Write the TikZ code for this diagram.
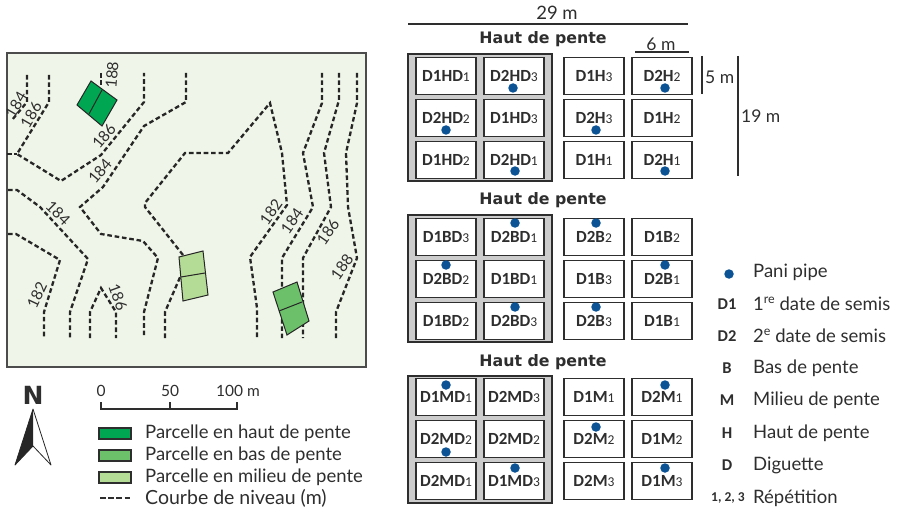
\documentclass[tikz,border=0pt]{standalone}
\usepackage{fontspec}
\setmainfont{Lato}
\newfontfamily\cellfont{Carlito}
\newfontfamily\headfont{DejaVu Sans}
\definecolor{ink}{HTML}{2E2E2E}
\definecolor{mapbg}{HTML}{EFF5E8}
\definecolor{hautc}{HTML}{00A651}
\definecolor{basc}{HTML}{6CC06A}
\definecolor{milc}{HTML}{B5DC96}
\definecolor{pani}{HTML}{0B5394}
\newcommand{\cellname}[2]{{\fontsize{17}{18}\selectfont\bfseries #1}{\fontsize{13.5}{14}\selectfont #2}}
\tikzset{
 contour/.style={draw=black!85,line width=2.3pt,dash pattern=on 4.6pt off 2.8pt},
 parcel/.style={draw=black!85,line width=1pt},
 plotcell/.style={draw=ink,line width=1.2pt,fill=white,minimum width=60pt,minimum height=37.5pt,inner sep=0pt,font=\cellfont,text=ink},
 dike/.style={draw=ink,line width=1.2pt,fill=black!20},
 panidot/.style={circle,fill=pani,minimum size=9.5pt,inner sep=0pt},
 lab/.style={font=\fontsize{18.5}{20}\selectfont,text=ink,inner sep=0pt},
 dimlab/.style={lab,font=\fontsize{17.5}{19}\selectfont,anchor=west},
 scalelab/.style={lab,font=\fontsize{15.5}{17}\selectfont},
 leg/.style={lab,anchor=west},
 keyb/.style={font=\cellfont\bfseries\fontsize{16.5}{17}\selectfont,text=ink,inner sep=0pt},
 elev/.style={font=\fontsize{15.5}{17}\selectfont,text=ink,inner sep=0pt},
 head/.style={font=\headfont\bfseries\fontsize{15.8}{17}\selectfont,text=ink,inner sep=0pt},
 dimline/.style={draw=ink,line width=1.3pt},
 swatch/.style={draw=ink,line width=1.3pt},
}
\begin{document}
\begin{tikzpicture}[x=1pt,y=-1pt]
\useasboundingbox (0,0) rectangle (898,511);
% map
\draw[fill=mapbg,draw=black!70,line width=1.5pt] (7,53) rectangle (366,367);
\draw[contour] (27,75)--(27,102)--(12,120);
\draw[contour] (49,75)--(49,102)--(17,154)--(61,181)--(101,155)--(144,102)--(144,73);
\draw[contour] (7,154)--(17,154);
\draw[contour] (101,73)--(101,86);
\draw[contour] (186,73)--(186,102)--(144,126)--(103,187)--(80,207)--(101,234)--(143,241)--(158,258)--(144,312)--(144,338);
\draw[contour] (8,234)--(16,234)--(60,260)--(44,312)--(44,338);
\draw[contour] (8,190)--(17,190)--(40,207)--(88,259)--(70,312)--(70,338);
\draw[contour] (90,338)--(90,312)--(101,288)--(116,312)--(116,338);
\draw[contour] (165,338)--(165,312)--(181,275);
\draw[contour] (183,255)--(145,207)--(145,203)--(185,153)--(228,153)--(270,103)--(282,153)--(287,205)--(250,257)--(257,308)--(257,338);
\draw[contour] (322,73)--(322,103)--(303,153)--(313,207)--(282,258)--(282,338);
\draw[contour] (339,73)--(339,100)--(324,153)--(331,207)--(303,258)--(303,338);
\draw[contour] (357,73)--(357,103)--(346,153)--(348,207)--(357,258)--(336,312)--(336,338);
% parcels
\draw[parcel,fill=hautc] (91,81)--(117,100)--(102,126)--(77,105)--cycle;
\draw[parcel] (102,90)--(89,114);
\draw[parcel,fill=milc] (179,257)--(203,251)--(208,295)--(183,301)--cycle;
\draw[parcel] (181,277)--(205,273);
\draw[parcel,fill=basc] (273,292)--(297,282)--(309,321)--(287,335)--cycle;
\draw[parcel] (279,311)--(302,302);
% elevation labels
\node[elev,rotate=60] (e1) at (16,105) {184};
\node[elev,rotate=60] (e2) at (31,115) {186};
\node[elev,rotate=85] (e3) at (112,75) {188};
\node[elev,rotate=50] (e4) at (104,136) {186};
\node[elev,rotate=50] (e5) at (100,171) {184};
\node[elev,rotate=-45] (e6) at (58,213) {184};
\node[elev,rotate=65] (e7) at (37,295) {182};
\node[elev,rotate=-70] (e8) at (118,297) {186};
\node[elev,rotate=55] (e9) at (271,212) {182};
\node[elev,rotate=55] (e10) at (292,221) {184};
\node[elev,rotate=55] (e11) at (328,232) {186};
\node[elev,rotate=55] (e12) at (342,267) {188};
% north arrow
\node[font=\headfont\bfseries\fontsize{25}{27}\selectfont,text=ink,inner sep=0pt] (north) at (33,395) {N};
\fill[black!85] (33,409)--(15,465)--(33,446)--cycle;
\draw[black!85,line width=.8pt,line join=round] (33,409)--(51,465)--(33,446)--(15,465)--cycle;
% scale
\draw[dimline] (101,402)--(101,409)--(237,409)--(237,402);
\draw[dimline] (170,402)--(170,409);
\node[scalelab] (s0) at (101,391) {0};
\node[scalelab] (s50) at (170,391) {50};
\node[scalelab,anchor=west] (s100) at (216,391) {100 m};
% legend left
\draw[swatch,fill=hautc] (99,428) rectangle (131,439);
\draw[swatch,fill=basc] (99,450) rectangle (131,461);
\draw[swatch,fill=milc] (99,472) rectangle (131,483);
\coordinate (da) at (100,498); \coordinate (db) at (130,498);
\draw[draw=ink,line width=2pt,dash pattern=on 5.5pt off 2.7pt] (da)--(db);
\node[leg] (l1) at (145,433) {Parcelle en haut de pente};
\node[leg] (l2) at (145,455) {Parcelle en bas de pente};
\node[leg] (l3) at (145,477) {Parcelle en milieu de pente};
\node[leg,font=\fontsize{19.5}{21}\selectfont] (l4) at (145,498) {Courbe de niveau (m)};
% dimensions
\coordinate (w1) at (408,24); \coordinate (w2) at (688,24);
\draw[dimline] (w1)--(w2);
\node[lab] (w) at (557,13) {29 m};
\coordinate (x1) at (635,52); \coordinate (x2) at (689,52);
\draw[dimline] (x1)--(x2);
\node[lab,font=\fontsize{17.5}{19}\selectfont] (x) at (661,44) {6 m};
\coordinate (y1) at (702,56); \coordinate (y2) at (702,94);
\draw[dimline] (y1)--(y2);
\node[dimlab] (y) at (705,77) {5 m};
\coordinate (z1) at (738,56); \coordinate (z2) at (738,176);
\draw[dimline] (z1)--(z2);
\node[dimlab] (z) at (741,116) {19 m};
% block titles
\node[head] (t1) at (543,39) {Haut de pente};
\node[head] (t2) at (543,200) {Haut de pente};
\node[head] (t3) at (543,362) {Haut de pente};
% dikes
\draw[dike] (408,54) rectangle (552,181);
\draw[dike] (408,215) rectangle (552,342);
\draw[dike] (408,376) rectangle (552,503);
% block 1
\node[plotcell] (a11) at (446,76) {\cellname{D1HD}{1}};
\node[plotcell] (a12) at (514,76) {\cellname{D2HD}{3}};
\node[plotcell] (a13) at (594,76) {\cellname{D1H}{3}};
\node[plotcell] (a14) at (662,76) {\cellname{D2H}{2}};
\node[plotcell] (a21) at (446,118) {\cellname{D2HD}{2}};
\node[plotcell] (a22) at (514,118) {\cellname{D1HD}{3}};
\node[plotcell] (a23) at (594,118) {\cellname{D2H}{3}};
\node[plotcell] (a24) at (662,118) {\cellname{D1H}{2}};
\node[plotcell] (a31) at (446,160) {\cellname{D1HD}{2}};
\node[plotcell] (a32) at (514,160) {\cellname{D2HD}{1}};
\node[plotcell] (a33) at (594,160) {\cellname{D1H}{1}};
\node[plotcell] (a34) at (662,160) {\cellname{D2H}{1}};
% block 2
\node[plotcell] (b11) at (446,237) {\cellname{D1BD}{3}};
\node[plotcell] (b12) at (514,237) {\cellname{D2BD}{1}};
\node[plotcell] (b13) at (594,237) {\cellname{D2B}{2}};
\node[plotcell] (b14) at (662,237) {\cellname{D1B}{2}};
\node[plotcell] (b21) at (446,279) {\cellname{D2BD}{2}};
\node[plotcell] (b22) at (514,279) {\cellname{D1BD}{1}};
\node[plotcell] (b23) at (594,279) {\cellname{D1B}{3}};
\node[plotcell] (b24) at (662,279) {\cellname{D2B}{1}};
\node[plotcell] (b31) at (446,321) {\cellname{D1BD}{2}};
\node[plotcell] (b32) at (514,321) {\cellname{D2BD}{3}};
\node[plotcell] (b33) at (594,321) {\cellname{D2B}{3}};
\node[plotcell] (b34) at (662,321) {\cellname{D1B}{1}};
% block 3
\node[plotcell] (c11) at (446,397) {\cellname{D1MD}{1}};
\node[plotcell] (c12) at (514,397) {\cellname{D2MD}{3}};
\node[plotcell] (c13) at (594,397) {\cellname{D1M}{1}};
\node[plotcell] (c14) at (662,397) {\cellname{D2M}{1}};
\node[plotcell] (c21) at (446,439) {\cellname{D2MD}{2}};
\node[plotcell] (c22) at (514,439) {\cellname{D2MD}{2}};
\node[plotcell] (c23) at (594,439) {\cellname{D2M}{2}};
\node[plotcell] (c24) at (662,439) {\cellname{D1M}{2}};
\node[plotcell] (c31) at (446,481) {\cellname{D2MD}{1}};
\node[plotcell] (c32) at (514,481) {\cellname{D1MD}{3}};
\node[plotcell] (c33) at (594,481) {\cellname{D2M}{3}};
\node[plotcell] (c34) at (662,481) {\cellname{D1M}{3}};
% pani pipes
\foreach \n/\px/\py in {p1/513/88,p2/446/130,p3/515/171,p4/665/88,p5/596/130,p6/665/171,
 p7/515/223,p8/446/265,p9/515/307,p10/596/223,p11/665/265,p12/596/307,
 p13/446/385,p14/446/452,p15/515/468,p16/665/385,p17/596/427,p18/665/468}
 \node[panidot] (\n) at (\px,\py) {};
% right legend
\node[panidot] (kp) at (729,274) {};
\node[leg] (k1) at (753,272) {Pani pipe};
\node[keyb] (kd1) at (727,304) {D1};
\node[leg] (k2) at (753,304) {1\raisebox{.4em}{\fontsize{12.5}{13}\selectfont re} date de semis};
\node[keyb] (kd2) at (727,336) {D2};
\node[leg] (k3) at (753,336) {2\raisebox{.4em}{\fontsize{12.5}{13}\selectfont e} date de semis};
\node[keyb] (kb) at (727,368) {B};
\node[leg] (k4) at (753,368) {Bas de pente};
\node[keyb] (km) at (727,400) {M};
\node[leg] (k5) at (753,400) {Milieu de pente};
\node[keyb] (kh) at (727,433) {H};
\node[leg] (k6) at (753,433) {Haut de pente};
\node[keyb] (kdd) at (727,465) {D};
\node[leg] (k7) at (753,465) {Diguette};
\node[keyb,font=\cellfont\bfseries\fontsize{13.5}{14}\selectfont] (kr) at (728,498) {1, 2, 3};
\node[leg] (k8) at (753,498) {Répétition};
\end{tikzpicture}
\end{document}
